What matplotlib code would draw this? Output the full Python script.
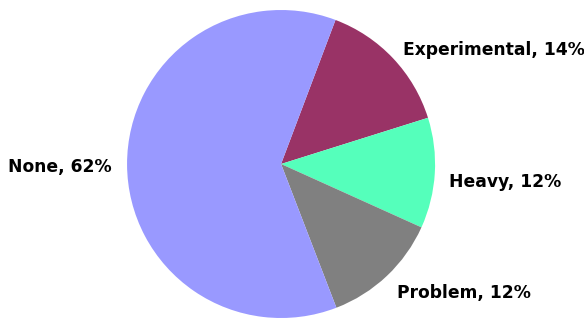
import matplotlib.pyplot as plt

labels = ['Experimental', 'Heavy', 'Problem', 'None']
values = [14.4, 11.6, 12.4, 61.6]
colors = ['#993366', '#55FFBB', '#808080', '#9999FF']

fig = plt.figure(figsize=(5.84, 3.18), dpi=100)
ax = fig.add_axes([0, 0, 1, 1])

texts = [f'{l}, {round(v)}%' for l, v in zip(labels, values)]
wedges, lbls = ax.pie(values, labels=texts, colors=colors, startangle=69.3,
                      counterclock=False, labeldistance=1.1,
                      textprops=dict(fontsize=12.3, fontweight='bold', color='black'))

# nudge labels a bit like the original
lbls[0].set_position((0.79, 0.74))
lbls[1].set_position((1.09, -0.12))
lbls[2].set_position((0.75, -0.84))
lbls[3].set_position((-1.10, -0.02))

ax.set_aspect('auto')
ax.set_xlim(-1.825, 1.967)
ax.set_ylim(-1.0, 1.065)
ax.axis('off')

fig.savefig('out.png', dpi=100)
